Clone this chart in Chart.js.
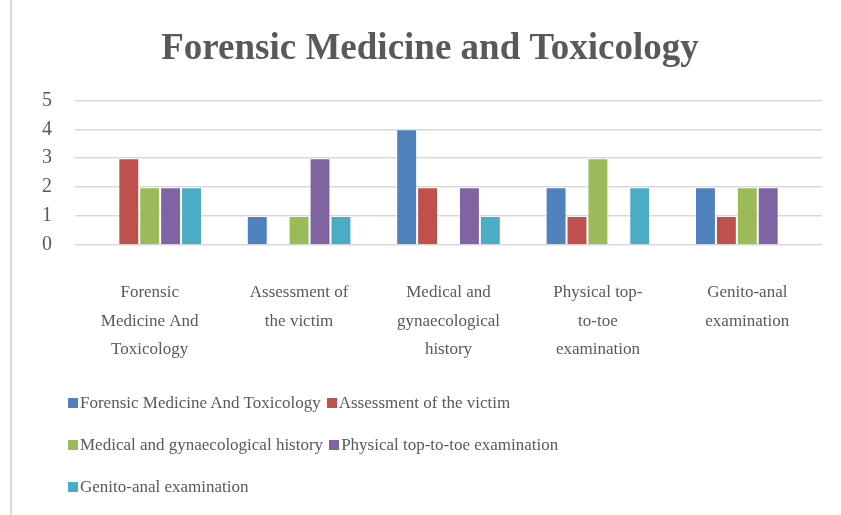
<!DOCTYPE html>
<html>
<head>
<meta charset="utf-8">
<script src="https://cdn.jsdelivr.net/npm/chart.js@4/dist/chart.umd.min.js"></script>
<style>
  html, body { margin: 0; padding: 0; background: #fff; }
  #wrap { position: relative; width: 841px; height: 515px; overflow: hidden; }
  #edge { position: absolute; left: 10px; top: 0; bottom: 0; width: 2px; background: #d9d9d9; }
  #legend {
    position: absolute; left: 68px; top: 382px; width: 540px;
    display: flex; flex-wrap: wrap;
    font-family: "Liberation Serif", "Times New Roman", serif; font-size: 17px; color: #595959;
  }
  .item { display: flex; align-items: center; height: 42px; margin-right: 6px; white-space: nowrap; }
  .box { width: 10px; height: 10px; margin-right: 2px; }
</style>
</head>
<body>
<div id="wrap">
  <canvas id="myChart" width="841" height="515"></canvas>
  <div id="edge"></div>
  <div id="legend"></div>
</div>
<script>
const seriesNames = [
  "Forensic Medicine And Toxicology",
  "Assessment of the victim",
  "Medical and gynaecological history",
  "Physical top-to-toe examination",
  "Genito-anal examination"
];
const tickLabels = [
  ["Forensic", "Medicine And", "Toxicology"],
  ["Assessment of", "the victim"],
  ["Medical and", "gynaecological", "history"],
  ["Physical top-", "to-toe", "examination"],
  ["Genito-anal", "examination"]
];
const forensicValues   = [0, 1, 4, 2, 2];
const assessmentValues = [3, 0, 2, 1, 1];
const medicalValues    = [2, 1, 0, 3, 2];
const physicalValues   = [2, 3, 2, 0, 2];
const genitoValues     = [2, 1, 1, 2, 0];
const yTicks = [0, 1, 2, 3, 4, 5];

const colors = ["#4F81BD", "#C0504D", "#9BBB59", "#8064A2", "#4BACC6"];
const allValues = [forensicValues, assessmentValues, medicalValues, physicalValues, genitoValues];

const serif = "'Liberation Serif', 'Times New Roman', serif";
const textColor = "#595959";

const ctx = document.getElementById("myChart");

const chart = new Chart(ctx, {
  type: "bar",
  data: {
    labels: tickLabels,
    datasets: seriesNames.map((name, i) => ({
      label: name,
      data: allValues[i],
      backgroundColor: colors[i],
      borderColor: "rgba(255,255,255,0.45)",
      borderWidth: 1,
      categoryPercentage: 0.7,
      barPercentage: 1.0,
    })),
  },
  options: {
    responsive: false,
    animation: false,
    layout: {
      padding: { left: 38, right: 19, top: 0, bottom: 155 },
    },
    scales: {
      x: {
        grid: { display: false },
        border: { display: false },
        ticks: {
          color: textColor,
          font: { family: serif, size: 17, lineHeight: 1.65 },
          maxRotation: 0,
          autoSkip: false,
          padding: 26,
        },
        afterFit: (scale) => { scale.height = 115; },
      },
      y: {
        min: 0,
        max: 5,
        afterBuildTicks: (scale) => { scale.ticks = yTicks.map((v) => ({ value: v })); },
        grid: { color: "#d9d9d9", lineWidth: 1.5, drawTicks: false },
        border: { display: false },
        ticks: {
          color: textColor,
          font: { family: serif, size: 20 },
          padding: 23,
        },
        afterFit: (scale) => { scale.width = 37; },
      },
    },
    plugins: {
      legend: { display: false },
      tooltip: { enabled: false },
      title: {
        display: true,
        text: "Forensic Medicine and Toxicology",
        color: textColor,
        font: { family: serif, size: 37, weight: "bold" },
        padding: { top: 27, bottom: 29 },
      },
    },
  },
});

// legend in html so it wraps like the original (2 / 2 / 1)
const legendDiv = document.getElementById("legend");
chart.data.datasets.forEach((ds) => {
  const item = document.createElement("div");
  item.className = "item";
  const box = document.createElement("span");
  box.className = "box";
  box.style.background = ds.backgroundColor;
  const txt = document.createElement("span");
  txt.textContent = ds.label;
  item.appendChild(box);
  item.appendChild(txt);
  legendDiv.appendChild(item);
});
</script>
</body>
</html>
